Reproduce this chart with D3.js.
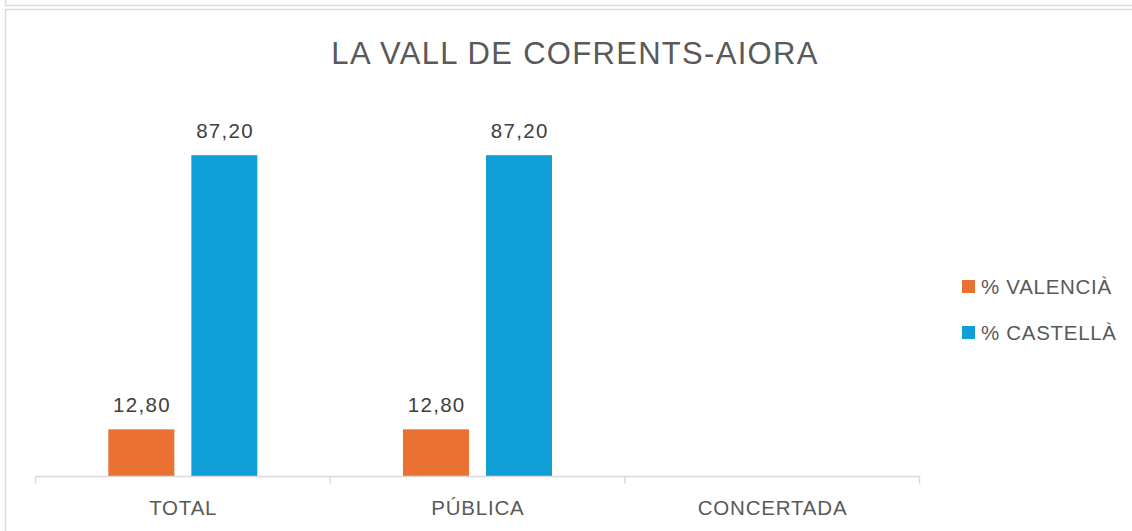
<!DOCTYPE html>
<html>
<head>
<meta charset="utf-8">
<script src="https://cdn.jsdelivr.net/npm/d3@7"></script>
<style>
  body { margin: 0; background: #fff; }
  svg { display: block; font-family: "Liberation Sans", Arial, sans-serif; }
</style>
</head>
<body>
<div id="container"></div>
<script>
/* CONSTANTS AND GLOBALS */
const width = 1132,
  height = 531;

// DATA
const categories = ["TOTAL", "PÚBLICA", "CONCERTADA"];
const series = ["% VALENCIÀ", "% CASTELLÀ"];
const valencia = [12.8, 12.8, null];
const castella = [87.2, 87.2, null];
const colors = ["#E97132", "#0F9ED5"];

const values = [valencia, castella];

const fmt = v => v.toFixed(2).replace(".", ",");

// CREATE SVG ELEMENT
const svg = d3.select("#container")
  .append("svg")
  .attr("width", width)
  .attr("height", height);

// borders (previous box corner + chart area)
svg.append("rect")
  .attr("x", 5.5).attr("y", -100)
  .attr("width", 2000).attr("height", 105.5)
  .attr("fill", "none").attr("stroke", "#dadada").attr("stroke-width", 1.5);
svg.append("rect")
  .attr("x", 5.5).attr("y", 9.5)
  .attr("width", 2000).attr("height", 2000)
  .attr("fill", "none").attr("stroke", "#dadada").attr("stroke-width", 1.5);

// SCALES
const x0 = d3.scaleBand()
  .domain(categories)
  .range([35.5, 919.5])
  .padding(0);

const x1 = d3.scaleBand()
  .domain(series)
  .range([0, x0.bandwidth()])
  .paddingInner(0.205)
  .paddingOuter(0.877);

const y = d3.scaleLinear()
  .domain([0, 100])
  .range([476.5, 108]);

// TITLE
svg.append("text")
  .attr("x", 575)
  .attr("y", 64)
  .attr("text-anchor", "middle")
  .style("font-size", "31px")
  .style("letter-spacing", "1.3px")
  .attr("fill", "#595959")
  .text("LA VALL DE COFRENTS-AIORA");

// BARS
const groups = svg.selectAll("g.cat")
  .data(categories)
  .join("g")
  .attr("class", "cat")
  .attr("transform", d => `translate(${x0(d)},0)`);

series.forEach((s, si) => {
  groups.filter((d, i) => values[si][i] != null)
    .append("rect")
    .attr("x", x1(s))
    .attr("width", x1.bandwidth())
    .attr("y", (d) => y(values[si][categories.indexOf(d)]))
    .attr("height", (d) => y(0) - y(values[si][categories.indexOf(d)]))
    .attr("fill", colors[si]);

  groups.filter((d, i) => values[si][i] != null)
    .append("text")
    .attr("x", x1(s) + x1.bandwidth() / 2 + 0.7)
    .attr("y", (d) => y(values[si][categories.indexOf(d)]) - 17)
    .attr("text-anchor", "middle")
    .style("font-size", "20.5px")
    .style("letter-spacing", "1.3px")
    .attr("fill", "#404040")
    .text(d => fmt(values[si][categories.indexOf(d)]));
});

// AXIS
const xAxis = d3.axisBottom(x0).tickSize(0).tickPadding(0);
const axisG = svg.append("g")
  .attr("transform", `translate(0,${y(0)})`)
  .call(xAxis);
axisG.select(".domain").remove();
axisG.selectAll("text")
  .attr("x", 0.4)
  .attr("y", 38)
  .attr("dy", 0)
  .style("font-size", "20.5px")
  .style("letter-spacing", "0.8px")
  .style("font-family", "Liberation Sans, Arial, sans-serif")
  .attr("fill", "#595959");

svg.append("line")
  .attr("x1", x0.range()[0]).attr("x2", x0.range()[1])
  .attr("y1", y(0)).attr("y2", y(0))
  .attr("stroke", "#d9d9d9").attr("stroke-width", 1.5);

const tickXs = categories.map(c => x0(c)).concat([x0.range()[1]]);
svg.selectAll("line.tick")
  .data(tickXs)
  .join("line")
  .attr("class", "tick")
  .attr("x1", d => d).attr("x2", d => d)
  .attr("y1", y(0)).attr("y2", y(0) + 7)
  .attr("stroke", "#d9d9d9").attr("stroke-width", 1.5);

// LEGEND
const legend = svg.selectAll("g.leg")
  .data(series)
  .join("g")
  .attr("class", "leg")
  .attr("transform", (d, i) => `translate(962,${280 + i * 46})`);
legend.append("rect")
  .attr("width", 13).attr("height", 13)
  .attr("fill", (d, i) => colors[i]);
legend.append("text")
  .attr("x", 19)
  .attr("y", 13.5)
  .style("font-size", "20.5px")
  .style("letter-spacing", "0.7px")
  .attr("fill", "#595959")
  .text(d => d);
</script>
</body>
</html>
